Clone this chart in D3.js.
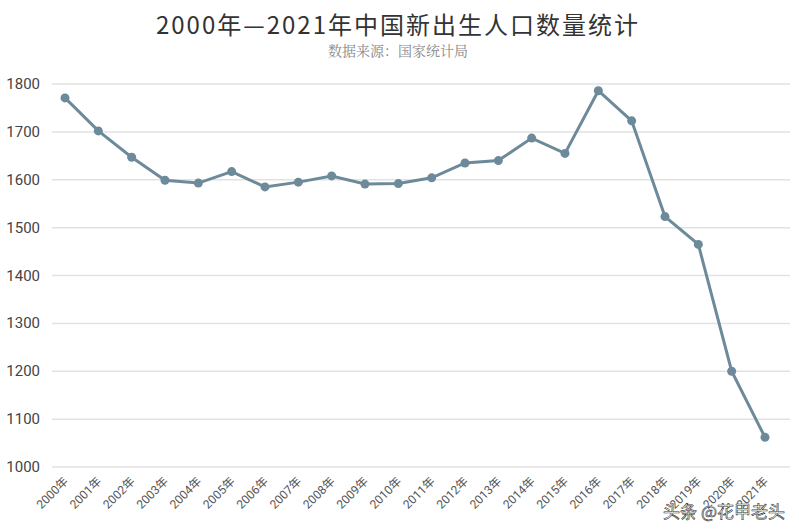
<!DOCTYPE html>
<html><head><meta charset="utf-8">
<script src="https://cdn.jsdelivr.net/npm/d3@7"></script>
<style>body{margin:0;background:#fff}</style>
</head><body><svg id="chart" width="799" height="532"></svg>
<script>
const years = ["2000年","2001年","2002年","2003年","2004年","2005年","2006年","2007年","2008年","2009年","2010年",
  "2011年","2012年","2013年","2014年","2015年","2016年","2017年","2018年","2019年","2020年","2021年"];
const births = [1771,1702,1647,1599,1593,1617,1585,1595,1608,1591,1592,1604,1635,1640,1687,1655,1786,1723,1523,1465,1200,1062];
const yTicks = [1000,1100,1200,1300,1400,1500,1600,1700,1800];

const svg = d3.select('#chart');
const x = d3.scalePoint().domain(years).range([65, 765]);
const y = d3.scaleLinear().domain([1000, 1800]).range([467, 84]);

// grid
svg.append('g').selectAll('line').data(yTicks).join('line')
  .attr('x1', 52).attr('x2', 790)
  .attr('y1', d => y(d)).attr('y2', d => y(d))
  .attr('stroke', '#e2e2e2').attr('stroke-width', 1.5);

svg.append('g').selectAll('text').data(yTicks).join('text')
  .attr('x', 40).attr('y', d => y(d) + 5)
  .attr('text-anchor', 'end')
  .style('font-family', 'Roboto, sans-serif').style('font-size', '15px').attr('fill', '#444')
  .text(d => d);

svg.append('g').selectAll('text').data(years).join('text')
  .attr('transform', d => 'translate(' + (x(d) + 4) + ',482) rotate(-45)')
  .attr('text-anchor', 'end')
  .style('font-family', 'Roboto, "Noto Sans CJK SC", sans-serif').style('font-size', '12px').attr('fill', '#555')
  .text(d => d);

const line = d3.line().x((d, i) => x(years[i])).y(d => y(d));
svg.append('path').datum(births)
  .attr('fill', 'none').attr('stroke', '#6d8a9a').attr('stroke-width', 3)
  .attr('d', line);

svg.append('g').selectAll('circle').data(births).join('circle')
  .attr('cx', (d, i) => x(years[i])).attr('cy', d => y(d)).attr('r', 4.5)
  .attr('fill', '#6d8a9a');

svg.append('text').attr('x', 398).attr('y', 34).attr('text-anchor', 'middle')
  .style('font-family', '"Noto Sans CJK SC", sans-serif').style('font-size', '24px')
  .style('letter-spacing', '2px').attr('fill', '#333')
  .text('2000年—2021年中国新出生人口数量统计');
svg.append('text').attr('x', 398).attr('y', 56).attr('text-anchor', 'middle')
  .style('font-family', '"Noto Serif CJK SC", "Noto Sans CJK SC", serif').style('font-size', '14px')
  .attr('fill', '#888')
  .text('数据来源：国家统计局');

svg.append('text').attr('x', 785).attr('y', 518).attr('text-anchor', 'end')
  .style('font-family', '"Noto Sans CJK SC", sans-serif').style('font-size', '17px')
  .attr('fill', '#fff').attr('stroke', '#333').attr('stroke-width', 0.6)
  .text('头条 @花甲老头');
</script></body></html>
